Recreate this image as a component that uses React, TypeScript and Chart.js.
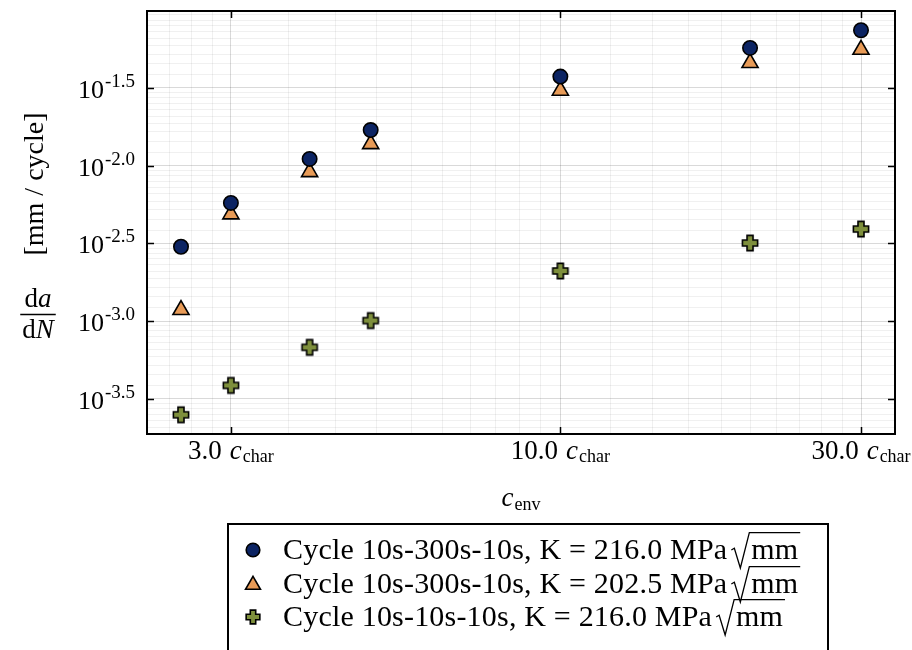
import React, { useEffect, useRef } from 'react';
import { Chart, registerables } from 'chart.js';

Chart.register(...registerables);

// ---------- data ----------
const xValues = [2.5, 3, 4, 5, 10, 20, 30];
const seriesNames = [
  'Cycle 10s-300s-10s, K = 216.0 MPa',
  'Cycle 10s-300s-10s, K = 202.5 MPa',
  'Cycle 10s-10s-10s, K = 216.0 MPa',
];
const seriesUnitRoot = 'mm';
const blueRates = [0.003006, 0.005754, 0.01104, 0.01694, 0.03741, 0.05715, 0.0743];
const orangeRates = [0.00118, 0.004864, 0.009099, 0.01377, 0.03041, 0.04581, 0.05572];
const greenRates = [0.0002495, 0.0003855, 0.0006776, 0.001007, 0.002099, 0.003177, 0.003908];
const xTickValues = [3, 10, 30];
const xTickLabels = ['3.0', '10.0', '30.0'];
const xGridAnchors = [1, 3, 10, 30, 100];
const yTickExponents = [-3.5, -3.0, -2.5, -2.0, -1.5];
const yTickLabels = ['-3.5', '-3.0', '-2.5', '-2.0', '-1.5'];

// ---------- styles ----------
const BLUE = '#0c2463';
const ORANGE = '#e89b57';
const GREEN = '#7e8f3c';
const SERIF = '"Liberation Serif", "DejaVu Serif", serif';
const MAJOR_GRID = 'rgba(0,0,0,0.15)';
const MINOR_GRID = 'rgba(0,0,0,0.06)';

function subdivide(anchors: number[]) {
  const out: { value: number; major: boolean }[] = [];
  for (let i = 0; i < anchors.length - 1; i++) {
    const a = anchors[i];
    const b = anchors[i + 1];
    out.push({ value: a, major: true });
    for (let k = 1; k < 10; k++) out.push({ value: a + (k * (b - a)) / 10, major: false });
  }
  out.push({ value: anchors[anchors.length - 1], major: true });
  return out;
}

function logLimits(values: number[]) {
  const logs = values.map((v) => Math.log10(v));
  const lo = Math.min(...logs);
  const hi = Math.max(...logs);
  const m = (hi - lo) * 0.05;
  return { min: Math.pow(10, lo - m), max: Math.pow(10, hi + m) };
}

function plusPath(ctx: CanvasRenderingContext2D, cx: number, cy: number, h: number, w: number) {
  ctx.beginPath();
  ctx.moveTo(cx - w, cy - h);
  ctx.lineTo(cx + w, cy - h);
  ctx.lineTo(cx + w, cy - w);
  ctx.lineTo(cx + h, cy - w);
  ctx.lineTo(cx + h, cy + w);
  ctx.lineTo(cx + w, cy + w);
  ctx.lineTo(cx + w, cy + h);
  ctx.lineTo(cx - w, cy + h);
  ctx.lineTo(cx - w, cy + w);
  ctx.lineTo(cx - h, cy + w);
  ctx.lineTo(cx - h, cy - w);
  ctx.lineTo(cx - w, cy - w);
  ctx.closePath();
}

function makePlus(scale: number) {
  const c = document.createElement('canvas');
  const s = Math.ceil(20 * scale);
  c.width = s;
  c.height = s;
  const g = c.getContext('2d')!;
  plusPath(g, s / 2, s / 2, 7.6 * scale, 3.0 * scale);
  g.fillStyle = GREEN;
  g.fill();
  g.lineWidth = 1.6;
  g.strokeStyle = '#000';
  g.stroke();
  return c;
}

function drawCircle(ctx: CanvasRenderingContext2D, x: number, y: number, r: number) {
  ctx.beginPath();
  ctx.arc(x, y, r, 0, Math.PI * 2);
  ctx.fillStyle = BLUE;
  ctx.fill();
  ctx.lineWidth = 1.6;
  ctx.strokeStyle = '#000';
  ctx.stroke();
}

function drawTriangle(ctx: CanvasRenderingContext2D, x: number, y: number, r: number) {
  ctx.beginPath();
  for (let i = 0; i < 3; i++) {
    const a = (i * 2 * Math.PI) / 3;
    const px = x + Math.sin(a) * r;
    const py = y - Math.cos(a) * r;
    if (i === 0) ctx.moveTo(px, py);
    else ctx.lineTo(px, py);
  }
  ctx.closePath();
  ctx.fillStyle = ORANGE;
  ctx.fill();
  ctx.lineWidth = 1.6;
  ctx.strokeStyle = '#000';
  ctx.stroke();
}

const decorPlugin = {
  id: 'decor',
  afterDraw(chart: any) {
    const { ctx, chartArea: ca, scales } = chart;
    const xs = scales.x;
    const ys = scales.y;
    ctx.save();
    ctx.fillStyle = '#000';
    ctx.strokeStyle = '#000';

    // tick marks (mirrored, inward)
    ctx.lineWidth = 1.5;
    const TL = 7;
    xTickValues.forEach((v) => {
      const px = Math.round(xs.getPixelForValue(v)) + 0.5;
      ctx.beginPath();
      ctx.moveTo(px, ca.bottom);
      ctx.lineTo(px, ca.bottom - TL);
      ctx.moveTo(px, ca.top);
      ctx.lineTo(px, ca.top + TL);
      ctx.stroke();
    });
    yTickExponents.forEach((e) => {
      const py = Math.round(ys.getPixelForValue(Math.pow(10, e))) + 0.5;
      ctx.beginPath();
      ctx.moveTo(ca.left, py);
      ctx.lineTo(ca.left + TL, py);
      ctx.moveTo(ca.right, py);
      ctx.lineTo(ca.right - TL, py);
      ctx.stroke();
    });

    // frame
    ctx.lineWidth = 2;
    ctx.strokeRect(ca.left, ca.top, ca.right - ca.left, ca.bottom - ca.top);

    // y tick labels: 10^{e}
    ctx.textBaseline = 'alphabetic';
    ctx.textAlign = 'left';
    yTickExponents.forEach((e, i) => {
      const py = ys.getPixelForValue(Math.pow(10, e));
      ctx.font = `26px ${SERIF}`;
      const wb = ctx.measureText('10').width;
      ctx.font = `19px ${SERIF}`;
      const ws = ctx.measureText(yTickLabels[i]).width;
      const right = ca.left - 12;
      const start = right - wb - ws - 1;
      ctx.font = `26px ${SERIF}`;
      ctx.fillText('10', start, py + 10);
      ctx.font = `19px ${SERIF}`;
      ctx.fillText(yTickLabels[i], start + wb + 1, py - 1);
    });

    // x tick labels: "3.0 c_char"
    xTickValues.forEach((v, i) => {
      const px = xs.getPixelForValue(v);
      const base = ca.bottom + 25;
      ctx.font = `27px ${SERIF}`;
      const wn = ctx.measureText(xTickLabels[i]).width;
      ctx.font = `italic 27px ${SERIF}`;
      const wc = ctx.measureText('c').width;
      ctx.font = `18px ${SERIF}`;
      const wsub = ctx.measureText('char').width;
      const gap = 8;
      const total = wn + gap + wc + 1 + wsub;
      let x0 = px - total / 2;
      ctx.font = `27px ${SERIF}`;
      ctx.fillText(xTickLabels[i], x0, base);
      x0 += wn + gap;
      ctx.font = `italic 27px ${SERIF}`;
      ctx.fillText('c', x0, base);
      x0 += wc + 1;
      ctx.font = `18px ${SERIF}`;
      ctx.fillText('char', x0, base + 3);
    });

    // x title: c_env
    {
      const cx = (ca.left + ca.right) / 2;
      const base = ca.bottom + 72;
      ctx.font = `italic 27px ${SERIF}`;
      const wc = ctx.measureText('c').width;
      ctx.font = `18px ${SERIF}`;
      const we = ctx.measureText('env').width;
      let x0 = cx - (wc + 1 + we) / 2;
      ctx.font = `italic 27px ${SERIF}`;
      ctx.fillText('c', x0, base);
      x0 += wc + 1;
      ctx.font = `18px ${SERIF}`;
      ctx.fillText('env', x0, base + 4);
    }

    // y title: fraction da/dN (upright) + rotated "[mm / cycle]"
    {
      const fx = 38;
      const fs = 27;
      const drawMixed = (parts: [string, boolean][], cx: number, base: number) => {
        let w = 0;
        parts.forEach(([t, it]) => {
          ctx.font = `${it ? 'italic ' : ''}${fs}px ${SERIF}`;
          w += ctx.measureText(t).width;
        });
        let x0 = cx - w / 2;
        parts.forEach(([t, it]) => {
          ctx.font = `${it ? 'italic ' : ''}${fs}px ${SERIF}`;
          ctx.fillText(t, x0, base);
          x0 += ctx.measureText(t).width;
        });
        return w;
      };
      drawMixed([['d', false], ['a', true]], fx, 307);
      const wN = drawMixed([['d', false], ['N', true]], fx, 338);
      ctx.lineWidth = 1.3;
      ctx.beginPath();
      ctx.moveTo(fx - wN / 2 - 2, 314.5);
      ctx.lineTo(fx + wN / 2 + 2, 314.5);
      ctx.stroke();

      ctx.save();
      ctx.translate(36, 184);
      ctx.rotate(-Math.PI / 2);
      ctx.font = `28px ${SERIF}`;
      ctx.textAlign = 'center';
      ctx.textBaseline = 'middle';
      ctx.fillText('[mm / cycle]', 0, 0);
      ctx.restore();
    }

    // legend box
    {
      const bx = 228;
      const by = 524;
      const bw = 600;
      ctx.lineWidth = 2;
      ctx.strokeStyle = '#000';
      ctx.strokeRect(bx, by, bw, 140);
      const rows = [550, 584, 617];
      const fs = 30;
      rows.forEach((cy, i) => {
        if (i === 0) drawCircle(ctx, 253, cy, 6.8);
        else if (i === 1) drawTriangle(ctx, 253, cy + 1, 8.6);
        else {
          const img = makePlus(0.9);
          ctx.drawImage(img, 253 - img.width / 2, cy - img.height / 2);
        }
        const base = cy + 9;
        ctx.fillStyle = '#000';
        ctx.strokeStyle = '#000';
        ctx.font = `${fs}px ${SERIF}`;
        ctx.textAlign = 'left';
        ctx.textBaseline = 'alphabetic';
        (ctx as any).letterSpacing = '0.2px';
        const tx = 283;
        ctx.fillText(seriesNames[i], tx, base);
        const w = ctx.measureText(seriesNames[i]).width;
        const rx = tx + w + 4;
        const wm = ctx.measureText(seriesUnitRoot).width;
        const top = base - 0.88 * fs;
        const end = rx + 0.66 * fs + wm + 2;
        ctx.lineWidth = 1.3;
        ctx.beginPath();
        ctx.moveTo(rx, base - 0.3 * fs);
        ctx.lineTo(rx + 0.1 * fs, base - 0.36 * fs);
        ctx.lineTo(rx + 0.3 * fs, base + 0.3 * fs);
        ctx.lineTo(rx + 0.6 * fs, top);
        ctx.lineTo(end, top);
        ctx.stroke();
        ctx.fillText(seriesUnitRoot, rx + 0.66 * fs, base);
        (ctx as any).letterSpacing = '0px';
      });
    }

    ctx.restore();
  },
};

export default function App() {
  const canvasRef = useRef<HTMLCanvasElement | null>(null);

  useEffect(() => {
    const canvas = canvasRef.current;
    if (!canvas) return;
    const xl = logLimits(xValues);
    const yl = logLimits([...blueRates, ...orangeRates, ...greenRates]);
    const yAnchors = [
      yTickExponents[0] - 0.5,
      ...yTickExponents,
      yTickExponents[yTickExponents.length - 1] + 0.5,
    ].map((e) => Math.pow(10, e));
    const xGrid = subdivide(xGridAnchors).filter((t) => t.value >= xl.min && t.value <= xl.max);
    const yGrid = subdivide(yAnchors).filter((t) => t.value >= yl.min && t.value <= yl.max);
    const isXMajor = (v: number) => xTickValues.some((m) => Math.abs(m - v) < 1e-9);
    const isYMajor = (v: number) =>
      yTickExponents.some((e) => Math.abs(Math.log10(v) - e) < 1e-6);

    const plusImg = makePlus(1);
    const toPts = (arr: number[]) => xValues.map((x, i) => ({ x, y: arr[i] }));

    const chart = new Chart(canvas, {
      type: 'scatter',
      data: {
        datasets: [
          {
            label: seriesNames[0],
            data: toPts(blueRates),
            pointStyle: 'circle',
            pointRadius: 7.2,
            backgroundColor: BLUE,
            borderColor: '#000',
            borderWidth: 1.6,
          },
          {
            label: seriesNames[1],
            data: toPts(orangeRates),
            pointStyle: 'triangle',
            pointRadius: 9.3,
            backgroundColor: ORANGE,
            borderColor: '#000',
            borderWidth: 1.6,
          },
          {
            label: seriesNames[2],
            data: toPts(greenRates),
            pointStyle: plusImg as any,
            pointRadius: 8,
            backgroundColor: GREEN,
            borderColor: '#000',
          },
        ],
      },
      options: {
        animation: false,
        responsive: false,
        maintainAspectRatio: false,
        devicePixelRatio: 1,
        layout: { padding: { left: 147, top: 11, right: 17, bottom: 216 } },
        plugins: { legend: { display: false }, tooltip: { enabled: false } },
        scales: {
          x: {
            type: 'logarithmic',
            min: xl.min,
            max: xl.max,
            ticks: { display: false },
            border: { display: false },
            grid: {
              drawTicks: false,
              lineWidth: 1,
              color: (c: any) => (c.tick && isXMajor(c.tick.value) ? MAJOR_GRID : MINOR_GRID),
            },
            afterBuildTicks: (s: any) => {
              s.ticks = xGrid.map((t) => ({ value: t.value, major: t.major }));
            },
          },
          y: {
            type: 'logarithmic',
            min: yl.min,
            max: yl.max,
            ticks: { display: false },
            border: { display: false },
            grid: {
              drawTicks: false,
              lineWidth: 1,
              color: (c: any) => (c.tick && isYMajor(c.tick.value) ? MAJOR_GRID : MINOR_GRID),
            },
            afterBuildTicks: (s: any) => {
              s.ticks = yGrid.map((t) => ({ value: t.value, major: t.major }));
            },
          },
        },
      },
      plugins: [decorPlugin],
    } as any);

    return () => chart.destroy();
  }, []);

  return (
    <div style={{ position: 'fixed', left: 0, top: 0, width: 912, height: 650, background: '#fff' }}>
      <canvas ref={canvasRef} width={912} height={650} style={{ display: 'block', width: 912, height: 650 }} />
    </div>
  );
}
